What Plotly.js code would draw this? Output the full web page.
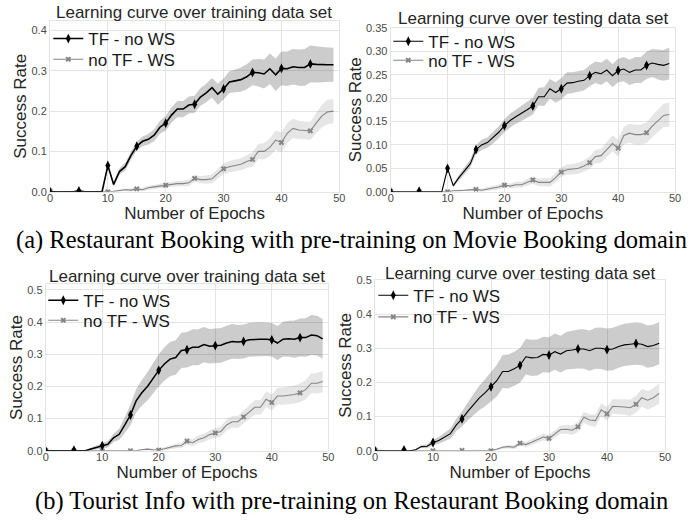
<!DOCTYPE html>
<html><head><meta charset="utf-8">
<script src="https://cdn.plot.ly/plotly-3.0.1.min.js"></script>
<style>html,body{margin:0;padding:0;background:#fff}#chart{width:700px;height:521px}</style>
</head><body><div id="chart"></div>
<script>
const epochs = [0,1,2,3,4,5,6,7,8,9,10,11,12,13,14,15,16,17,18,19,20,21,22,23,24,25,26,27,28,29,30,31,32,33,34,35,36,37,38,39,40,41,42,43,44,45,46,47,48,49];
const xTicks = [0,10,20,30,40,50];
const seriesNames = ['TF - no WS', 'no TF - WS'];
const panelTitles = ['Learning curve over training data set','Learning curve over testing data set','Learning curve over training data set','Learning curve over testing data set'];
const captionA = '(a) Restaurant Booking with pre-training on Movie Booking domain';
const captionB = '(b) Tourist Info with pre-training on Restaurant Booking domain';
const xTitle = 'Number of Epochs';
const yTitle = 'Success Rate';

// Panel 1: Restaurant Booking, training
const p1TFmean = [0,0,0,0,0,0.002,0,0,0,0,
 0.065,0.018,0.05,0.062,0.09,0.113,0.125,0.13,0.14,0.16,
 0.17,0.19,0.205,0.205,0.215,0.217,0.235,0.245,0.258,0.242,
 0.255,0.272,0.275,0.278,0.285,0.296,0.295,0.292,0.305,0.29,
 0.306,0.305,0.31,0.308,0.308,0.317,0.316,0.315,0.315,0.315];
const p1TFspread = [0,0,0,0,0,0,0,0,0,0,
 0.004,0.006,0.008,0.01,0.01,0.011,0.012,0.013,0.015,0.016,
 0.018,0.019,0.02,0.02,0.021,0.021,0.022,0.023,0.024,0.026,
 0.026,0.027,0.028,0.03,0.031,0.032,0.034,0.036,0.038,0.04,
 0.042,0.043,0.044,0.045,0.046,0.046,0.045,0.044,0.043,0.042];
const p1WSmean = [0.002,0,0,0,0,0,0,0,0,0,
 0,0.001,0.003,0.005,0.004,0.007,0.005,0.01,0.012,0.014,
 0.016,0.018,0.02,0.02,0.022,0.033,0.03,0.03,0.032,0.045,
 0.057,0.062,0.065,0.068,0.075,0.08,0.1,0.1,0.11,0.128,
 0.122,0.145,0.157,0.153,0.152,0.151,0.17,0.188,0.198,0.2];
const p1WSspread = [0,0,0,0,0,0,0,0,0,0,
 0.001,0.002,0.003,0.003,0.004,0.004,0.004,0.005,0.005,0.005,
 0.006,0.006,0.007,0.007,0.008,0.008,0.009,0.01,0.011,0.012,
 0.013,0.014,0.014,0.015,0.016,0.018,0.019,0.02,0.022,0.024,
 0.025,0.025,0.024,0.023,0.022,0.022,0.025,0.028,0.03,0.03];

// Panel 2: Restaurant Booking, testing
const p2TFmean = [0,0,0,0,0,0.001,0,0,0,0,
 0.05,0.013,0.03,0.045,0.06,0.09,0.1,0.105,0.115,0.127,
 0.141,0.152,0.16,0.167,0.175,0.183,0.203,0.203,0.22,0.212,
 0.22,0.232,0.233,0.236,0.238,0.248,0.255,0.252,0.26,0.248,
 0.259,0.262,0.255,0.26,0.26,0.27,0.275,0.272,0.27,0.274];
const p2TFspread = [0,0,0,0,0,0,0,0,0,0,
 0.003,0.004,0.006,0.008,0.009,0.01,0.011,0.011,0.012,0.013,
 0.014,0.015,0.015,0.016,0.017,0.018,0.019,0.02,0.021,0.022,
 0.023,0.023,0.022,0.022,0.022,0.022,0.023,0.024,0.024,0.025,
 0.025,0.026,0.027,0.028,0.028,0.029,0.03,0.032,0.033,0.034];
const p2WSmean = [0.001,0,0,0,0,0,0,0,0,0,
 0,0.002,0.002,0.003,0.004,0.005,0.003,0.006,0.008,0.01,
 0.014,0.012,0.015,0.015,0.02,0.025,0.02,0.02,0.02,0.03,
 0.042,0.047,0.048,0.05,0.055,0.062,0.075,0.077,0.09,0.103,
 0.093,0.12,0.125,0.122,0.122,0.126,0.14,0.152,0.163,0.165];
const p2WSspread = [0,0,0,0,0,0,0,0,0,0,
 0.001,0.001,0.002,0.002,0.003,0.003,0.003,0.004,0.004,0.005,
 0.005,0.005,0.006,0.006,0.007,0.008,0.008,0.008,0.009,0.01,
 0.01,0.011,0.011,0.012,0.012,0.013,0.014,0.015,0.016,0.017,
 0.018,0.019,0.02,0.021,0.021,0.022,0.023,0.024,0.025,0.026];

// Panel 3: Tourist Info, training
const p3TFmean = [0,0,0,0,0,0.002,0,0,0.005,0.01,
 0.016,0.02,0.04,0.051,0.08,0.111,0.155,0.18,0.2,0.225,
 0.25,0.27,0.285,0.29,0.312,0.314,0.322,0.322,0.33,0.325,
 0.327,0.328,0.335,0.34,0.338,0.34,0.345,0.347,0.347,0.347,
 0.345,0.335,0.347,0.348,0.347,0.352,0.352,0.36,0.358,0.348];
const p3TFspread = [0,0,0,0,0,0,0,0.002,0.004,0.006,
 0.008,0.01,0.013,0.017,0.025,0.032,0.036,0.04,0.044,0.047,
 0.05,0.052,0.053,0.054,0.055,0.055,0.056,0.056,0.055,0.054,
 0.054,0.054,0.054,0.054,0.053,0.053,0.053,0.053,0.053,0.052,
 0.052,0.053,0.054,0.056,0.058,0.059,0.06,0.062,0.062,0.062];
const p3WSmean = [0.001,0,0,0,0,0,0,0,0,0,
 0,0,0,0,0,0,0,0.003,0.005,0.003,
 0.002,0.006,0.01,0.015,0.016,0.03,0.025,0.035,0.04,0.05,
 0.055,0.06,0.08,0.09,0.09,0.105,0.12,0.135,0.135,0.16,
 0.15,0.17,0.17,0.172,0.175,0.18,0.19,0.21,0.21,0.215];
const p3WSspread = [0,0,0,0,0,0,0,0,0,0,
 0,0,0,0,0.001,0.001,0.002,0.002,0.003,0.003,
 0.004,0.005,0.006,0.007,0.008,0.01,0.011,0.012,0.013,0.014,
 0.015,0.016,0.017,0.018,0.019,0.02,0.021,0.022,0.023,0.024,
 0.025,0.026,0.027,0.028,0.028,0.029,0.03,0.031,0.032,0.033];

// Panel 4: Tourist Info, testing
const p4TFmean = [0,0,0,0,0,0.002,0,0.003,0.012,0.013,
 0.024,0.03,0.04,0.05,0.075,0.093,0.115,0.135,0.155,0.17,
 0.187,0.205,0.232,0.232,0.24,0.25,0.275,0.272,0.273,0.282,
 0.28,0.29,0.283,0.293,0.295,0.298,0.298,0.293,0.3,0.3,
 0.296,0.298,0.305,0.31,0.312,0.314,0.312,0.305,0.308,0.315];
const p4TFspread = [0,0,0,0,0,0,0,0.002,0.004,0.006,
 0.008,0.01,0.012,0.015,0.018,0.022,0.026,0.031,0.036,0.04,
 0.043,0.046,0.048,0.05,0.05,0.051,0.052,0.053,0.053,0.052,
 0.052,0.053,0.054,0.055,0.056,0.057,0.058,0.059,0.06,0.061,
 0.062,0.062,0.062,0.062,0.062,0.062,0.062,0.062,0.062,0.062];
const p4WSmean = [0.002,0,0,0,0,0,0,0,0,0,
 0,0,0,0,0,0.001,0,0.002,0.002,0.001,
 0,0.004,0.01,0.012,0.01,0.022,0.018,0.025,0.032,0.04,
 0.036,0.048,0.062,0.063,0.06,0.07,0.098,0.09,0.088,0.12,
 0.108,0.13,0.13,0.128,0.126,0.136,0.155,0.148,0.155,0.168];
const p4WSspread = [0,0,0,0,0,0,0,0,0,0,
 0,0,0,0,0,0.001,0.001,0.001,0.002,0.002,
 0.003,0.003,0.004,0.005,0.006,0.007,0.008,0.008,0.009,0.01,
 0.01,0.011,0.012,0.013,0.014,0.015,0.016,0.017,0.018,0.019,
 0.02,0.021,0.022,0.023,0.024,0.025,0.026,0.027,0.028,0.03];

const W = 700, H = 521;
const px = v => v / W;
const py = v => 1 - v / H;
const SANS = 'Liberation Sans, Arial, Helvetica, sans-serif';
const SERIF = 'Liberation Serif, Times New Roman, serif';
const GRID = '#e4e4e4';

const panels = [
  {tf: p1TFmean, tfs: p1TFspread, ws: p1WSmean, wss: p1WSspread, lw: 1.6},
  {tf: p2TFmean, tfs: p2TFspread, ws: p2WSmean, wss: p2WSspread, lw: 1.1},
  {tf: p3TFmean, tfs: p3TFspread, ws: p3WSmean, wss: p3WSspread, lw: 1.5},
  {tf: p4TFmean, tfs: p4TFspread, ws: p4WSmean, wss: p4WSspread, lw: 1.1}
];
const legendIds = ['legend','legend2','legend3','legend4','legend5','legend6','legend7','legend8'];

const tfMarkColor = epochs.map(e => e % 5 === 0 ? '#000000' : 'rgba(0,0,0,0)');
const wsMarkColor = epochs.map(e => e % 5 === 0 ? '#858585' : 'rgba(0,0,0,0)');

const traces = [];
panels.forEach((p, i) => {
  const xa = i === 0 ? 'x' : 'x' + (i + 1);
  const ya = i === 0 ? 'y' : 'y' + (i + 1);
  const band = (m, s, color) => {
    traces.push({x: epochs, y: m.map((v, k) => v - s[k]), xaxis: xa, yaxis: ya, mode: 'lines',
      line: {width: 0, color: color}, showlegend: false, hoverinfo: 'skip'});
    traces.push({x: epochs, y: m.map((v, k) => v + s[k]), xaxis: xa, yaxis: ya, mode: 'lines',
      line: {width: 0, color: color}, fill: 'tonexty', fillcolor: color, showlegend: false, hoverinfo: 'skip'});
  };
  band(p.tf, p.tfs, 'rgba(0,0,0,0.2)');
  band(p.ws, p.wss, 'rgba(128,128,128,0.2)');
  traces.push({x: epochs, y: p.ws, xaxis: xa, yaxis: ya, mode: 'lines+markers', name: seriesNames[1],
    legend: legendIds[2 * i + 1], line: {color: '#858585', width: 1.1},
    marker: {symbol: 'x', size: 5, color: wsMarkColor, line: {width: 0}}});
  traces.push({x: epochs, y: p.tf, xaxis: xa, yaxis: ya, mode: 'lines+markers', name: seriesNames[0],
    legend: legendIds[2 * i], line: {color: '#000000', width: p.lw},
    marker: {symbol: 'diamond-tall', size: 7, color: tfMarkColor, line: {width: 0}}});
});

const xaxisBase = (dom, anchor) => ({
  domain: dom, anchor: anchor, range: [0, 50], tickvals: xTicks, ticktext: xTicks.map(String),
  showgrid: true, gridcolor: GRID, gridwidth: 1, zeroline: false,
  showline: true, linecolor: GRID, linewidth: 1, mirror: true, ticks: '', ticklabelstandoff: -4,
  tickfont: {family: SANS, size: 11, color: '#4a4a4a'},
  title: {text: xTitle, font: {family: SANS, size: 17, color: '#262626'}, standoff: 0}
});
const yaxisBase = (dom, anchor, range, dtick, fmt) => ({
  domain: dom, anchor: anchor, range: range, dtick: dtick, tick0: 0, tickformat: fmt,
  showgrid: true, gridcolor: GRID, gridwidth: 1, zeroline: false,
  showline: true, linecolor: GRID, linewidth: 1, mirror: true, ticks: '',
  tickfont: {family: SANS, size: 11, color: '#4a4a4a'},
  title: {text: yTitle, font: {family: SANS, size: 17, color: '#262626'}, standoff: 0}
});
const legendBase = (x, yTop) => ({
  x: px(x), y: py(yTop), xanchor: 'left', yanchor: 'top', bgcolor: 'rgba(0,0,0,0)', borderwidth: 0,
  font: {family: SANS, size: 17, color: '#1a1a1a'}, tracegroupgap: 0, traceorder: 'normal'
});

const titleAnn = (text, cx, cy) => ({text: text, x: px(cx), y: py(cy), xref: 'paper', yref: 'paper',
  xanchor: 'center', yanchor: 'middle', showarrow: false, font: {family: SANS, size: 17, color: '#262626'}});
const capAnn = (text, cx, cy) => ({text: text, x: px(cx), y: py(cy), xref: 'paper', yref: 'paper',
  xanchor: 'center', yanchor: 'middle', showarrow: false, font: {family: SERIF, size: 24.5, color: '#000000'}});

const LOFF = 19;
const layout = {
  width: W, height: H, margin: {l: 0, r: 0, t: 0, b: 0}, paper_bgcolor: '#ffffff', plot_bgcolor: '#ffffff',
  showlegend: true,
  xaxis: xaxisBase([px(50), px(339.3)], 'y'),
  yaxis: yaxisBase([py(191.7), py(21)], 'x', [0, 0.4235], 0.1, '.1f'),
  xaxis2: xaxisBase([px(390.7), px(675)], 'y2'),
  yaxis2: yaxisBase([py(191.7), py(27.9)], 'x2', [0, 0.35], 0.05, '.2f'),
  xaxis3: xaxisBase([px(45.7), px(328.3)], 'y3'),
  yaxis3: yaxisBase([py(450.7), py(284.3)], 'x3', [0, 0.5177], 0.1, '.1f'),
  xaxis4: xaxisBase([px(375), px(665)], 'y4'),
  yaxis4: yaxisBase([py(450.7), py(280)], 'x4', [0, 0.5], 0.1, '.1f'),
  legend: legendBase(48.3, 40 - LOFF),
  legend2: legendBase(48.3, 60.7 - LOFF),
  legend3: legendBase(388.3, 42.7 - LOFF),
  legend4: legendBase(388.3, 61.7 - LOFF),
  legend5: legendBase(43.3, 301.7 - LOFF),
  legend6: legendBase(43.3, 321.7 - LOFF),
  legend7: legendBase(373.3, 296.7 - LOFF),
  legend8: legendBase(373.3, 318.3 - LOFF),
  annotations: [
    titleAnn(panelTitles[0], 193.5, 12.5),
    titleAnn(panelTitles[1], 533, 18.3),
    titleAnn(panelTitles[2], 187, 276),
    titleAnn(panelTitles[3], 520, 273),
    capAnn(captionA, 351, 240),
    capAnn(captionB, 351, 501)
  ]
};

Plotly.newPlot('chart', traces, layout, {displayModeBar: false, staticPlot: true});
</script>
</body></html>
